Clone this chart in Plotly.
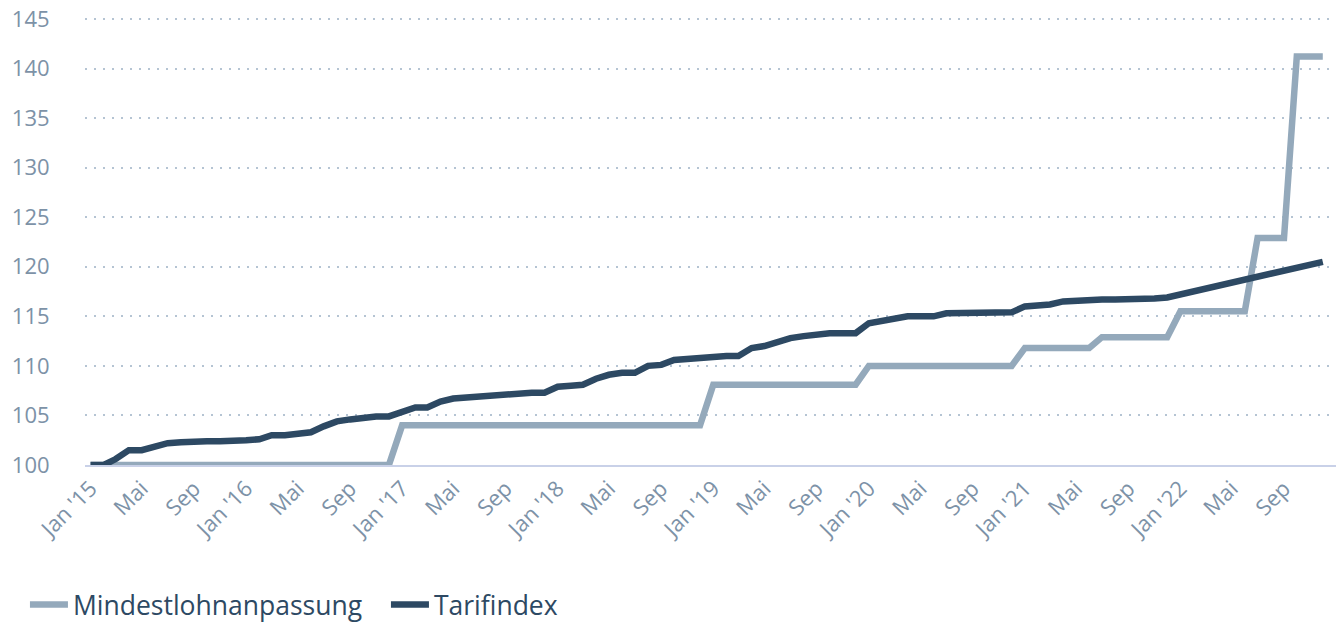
import plotly.graph_objects as go
import pandas as pd

months = pd.date_range("2015-01-01", "2022-12-01", freq="MS").strftime("%Y-%m-%d").tolist()

mindestlohn = (
    [100.0] * 24 +            # 2015-2016
    [104.0] * 24 +            # 2017-2018
    [108.1] * 12 +            # 2019
    [110.0] * 12 +            # 2020
    [111.8] * 6 + [112.9] * 6 +   # 2021
    [115.5] * 6 + [122.9] * 3 + [141.2] * 3  # 2022
)

tarifindex = [
    # 2015
    100.0, 100.0, 100.6, 101.5, 101.5, 101.8, 102.2, 102.3, 102.4, 102.4, 102.4, 102.4,
    # 2016
    102.5, 102.6, 103.0, 103.0, 103.1, 103.3, 103.9, 104.4, 104.6, 104.8, 104.9, 104.9,
    # 2017
    105.4, 105.8, 105.8, 106.4, 106.7, 106.8, 106.9, 107.1, 107.2, 107.3, 107.3, 107.3,
    # 2018
    107.9, 108.0, 108.1, 108.7, 109.1, 109.3, 109.3, 110.0, 110.1, 110.6, 110.7, 110.8,
    # 2019
    111.0, 111.0, 111.0, 111.8, 112.0, 112.4, 112.8, 113.0, 113.2, 113.3, 113.3, 113.3,
    # 2020
    114.3, 114.5, 114.8, 115.0, 115.0, 115.0, 115.3, 115.3, 115.3, 115.3, 115.4, 115.4,
    # 2021
    116.0, 116.1, 116.2, 116.5, 116.6, 116.6, 116.7, 116.7, 116.7, 116.8, 116.8, 116.9,
    # 2022
    117.2, 117.5, 117.8, 118.2, 118.4, 118.7, 119.0, 119.3, 119.6, 119.9, 120.2, 120.5,
]

tick_dates = months[::4]
tick_labels = ["Jan '15", "Mai", "Sep", "Jan '16", "Mai", "Sep", "Jan '17", "Mai", "Sep",
               "Jan '18", "Mai", "Sep", "Jan '19", "Mai", "Sep", "Jan '20", "Mai", "Sep",
               "Jan '21", "Mai", "Sep", "Jan '22", "Mai", "Sep"]

y_ticks = [100, 105, 110, 115, 120, 125, 130, 135, 140, 145]

series_names = ["Mindestlohnanpassung", "Tarifindex"]
series_colors = ["#94a9bb", "#2d4963"]

fig = go.Figure()
for name, vals, col in zip(series_names, [mindestlohn, tarifindex], series_colors):
    fig.add_trace(go.Scatter(
        x=months, y=vals, name=name, mode="lines",
        line=dict(color=col, width=6.5, shape="linear"),
        hoverinfo="x+y+name",
    ))

font_family = "'Open Sans', 'Noto Sans', sans-serif"
tick_color = "#7d92a7"

fig.update_layout(
    width=1336, height=624,
    margin=dict(l=85, r=0, t=14, b=159, autoexpand=False),
    paper_bgcolor="white", plot_bgcolor="white",
    font=dict(family=font_family, color=tick_color, size=22),
    showlegend=True,
    legend=dict(
        orientation="h", x=-0.048, xanchor="left",
        y=-0.31, yanchor="middle",
        font=dict(size=26.5, color="#2d4963", family=font_family),
        tracegroupgap=0, itemwidth=38,
        entrywidth=308, entrywidthmode="pixels",
    ),
    xaxis=dict(
        type="date",
        range=["2014-12-19", "2023-01-01"],
        tickvals=tick_dates, ticktext=tick_labels,
        tickangle=-45,
        showgrid=False,
        showline=True, linecolor="#c9d1e8", linewidth=2,
        ticks="",
        tickfont=dict(size=22, color=tick_color),
        zeroline=False,
        automargin=False,
    ),
    yaxis=dict(
        range=[100, 145.5],
        tickvals=y_ticks,
        showgrid=True, gridcolor="#b5c4d3", gridwidth=1.5, griddash="2px,7px",
        showline=False, zeroline=False,
        ticks="outside", ticklen=30, tickcolor="rgba(0,0,0,0)",
        ticklabeloverflow="allow",
        tickfont=dict(size=22, color=tick_color),
        automargin=False,
    ),
)

# remove the browser's default 8px body margin so the figure fills the window exactly
fig.write_html(
    "out.html",
    config={"displayModeBar": False},
    post_script="document.body.style.margin='0px';document.body.style.overflow='hidden';",
)
